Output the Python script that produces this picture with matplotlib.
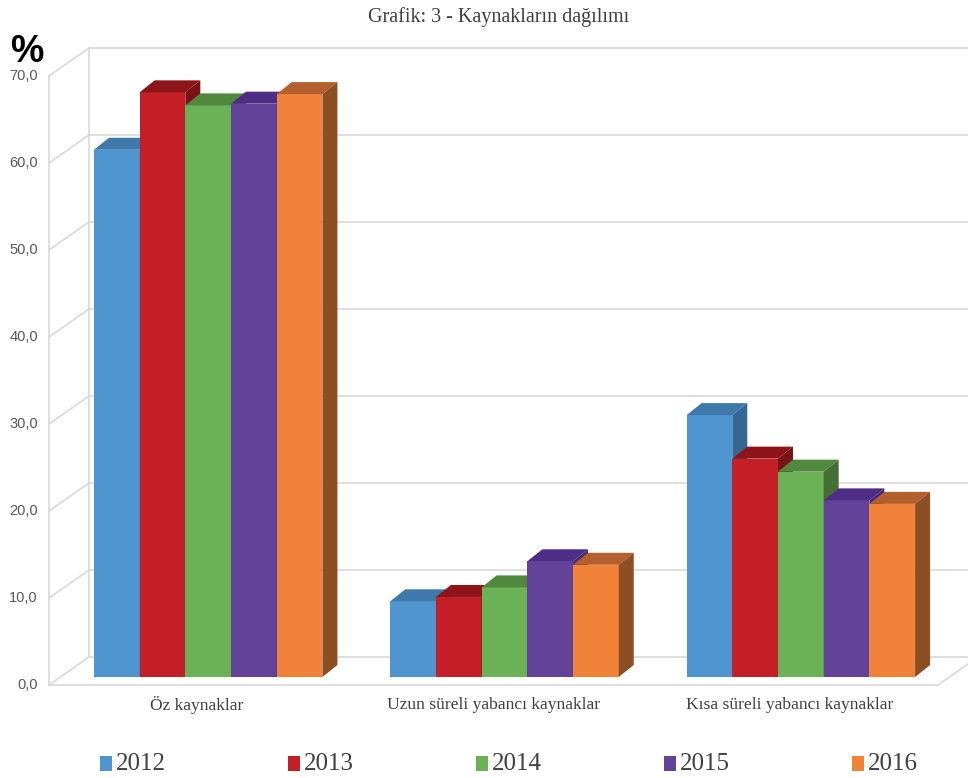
import numpy as np
import matplotlib.pyplot as plt
from matplotlib.patches import Polygon, Rectangle

categories = ['Öz kaynaklar', 'Uzun süreli yabancı kaynaklar', 'Kısa süreli yabancı kaynaklar']
years = ['2012', '2013', '2014', '2015', '2016']
v2012 = [60.6, 8.7, 30.1]
v2013 = [67.2, 9.2, 25.1]
v2014 = [65.7, 10.3, 23.6]
v2015 = [65.9, 13.3, 20.3]
v2016 = [67.0, 12.9, 19.9]
series = [v2012, v2013, v2014, v2015, v2016]
yticks = [0, 10, 20, 30, 40, 50, 60, 70]
ytick_labels = ['0,0', '10,0', '20,0', '30,0', '40,0', '50,0', '60,0', '70,0']

front_c = ['#4f96d1', '#c41f27', '#6bb155', '#63439a', '#f0823a']
top_c = ['#3f79ab', '#8d1419', '#50883e', '#4e2d86', '#b35f2e']
side_c = ['#356790', '#7a1116', '#436f35', '#462a77', '#8c4f24']

W, H = 968, 778
fig = plt.figure(figsize=(W / 100, H / 100), dpi=100)
# axes = plane of the bars' front faces
ax = fig.add_axes([60 / W, 101 / H, 889 / W, 609 / H])
ax.set_xlim(-0.5, 2.5)
ax.set_ylim(0, 70)
ax.axis('off')

sx = 889 / 3.0   # px per x unit
sy = 609 / 70.0  # px per y unit


def off(dx, dy):
    return dx / sx, dy / sy


fx, fy = off(-11, -8)   # front edge of floor
bx, by = off(29, 20)    # back wall
dx, dy = off(15, 12)    # bar depth

grid = '#d9d9d9'
kw = dict(color=grid, lw=1.2, clip_on=False, zorder=1)
for v in yticks:
    ax.plot([-0.5 + bx, 2.6 + bx], [v + by, v + by], **kw)
    ax.plot([-0.5 + fx, -0.5 + bx], [v + fy, v + by], **kw)
ax.plot([-0.5 + fx, -0.5 + fx], [fy, 70 + fy], **kw)
ax.plot([-0.5 + bx, -0.5 + bx], [by, 70 + by], **kw)
ax.plot([-0.5 + fx, 2.5 + fx], [fy, fy], **kw)
ax.plot([2.5 + fx, 2.5 + bx], [fy, by], **kw)

for v, lab in zip(yticks, ytick_labels):
    ax.text(-0.5 + fx - 11 / sx, v + fy, lab, ha='right', va='center',
            fontsize=10.5, color='#595959', family='Liberation Sans')

w = 45.7 / sx
xc = np.arange(len(categories))
for i, vals in enumerate(series):
    xs = xc + (i - 2) * w
    z = 3 + 3 * i
    ax.bar(xs, vals, width=w, color=front_c[i], edgecolor='none', zorder=z)
    for x, h in zip(xs, vals):
        l, r = x - w / 2, x + w / 2
        ax.add_patch(Polygon([(l, h), (r, h), (r + dx, h + dy), (l + dx, h + dy)],
                             closed=True, color=top_c[i], lw=0, zorder=z + 1))
        ax.add_patch(Polygon([(r, 0), (r, h), (r + dx, h + dy), (r + dx, dy)],
                             closed=True, color=side_c[i], lw=0, zorder=z + 2))

for x, lab in zip(xc, categories):
    ax.text(x + fx, fy - 20 / sy, lab, ha='center', va='center',
            fontsize=12.6, color='#404040', family='Liberation Serif')

fig.text(499 / W, 1 - 17 / H, 'Grafik: 3 - Kaynakların dağılımı', ha='center', va='center',
         fontsize=14.5, color='#404040', family='Liberation Serif')
fig.text(10 / W, 1 - 52 / H, '%', ha='left', va='center', fontsize=27,
         fontweight='bold', family='Liberation Sans', color='black')

# legend
for i, yr in enumerate(years):
    x0 = 100 + 188 * i
    fig.patches.append(Rectangle((x0 / W, 1 - 771 / H), 12 / W, 15 / H,
                                 transform=fig.transFigure, color=front_c[i], lw=0))
    fig.text((x0 + 16) / W, 1 - 764 / H, yr, ha='left', va='center',
             fontsize=18, color='#404040', family='Liberation Serif')

fig.savefig('out.png', dpi=100)
